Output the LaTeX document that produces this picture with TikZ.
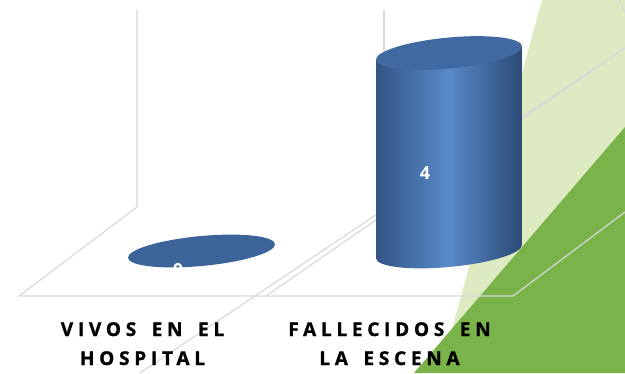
\documentclass[tikz,border=0pt]{standalone}
\usepackage{fontspec}
\setmainfont{Open Sans}
\newfontfamily\catfont{Open Sans Bold}[LetterSpace=25,WordSpace=1.6,FakeBold=1.2]
\definecolor{gridgray}{RGB}{217,217,217}
\definecolor{palegreen}{RGB}{221,234,194}
\definecolor{leafgreen}{RGB}{122,179,73}
\definecolor{bardark}{RGB}{50,84,132}
\definecolor{barlight}{RGB}{88,138,202}
\definecolor{barright}{RGB}{44,74,117}
\definecolor{bartop}{RGB}{63,105,160}
\definecolor{barflat}{RGB}{60,100,152}
\begin{document}
\begin{tikzpicture}[x=1pt,y=-1pt,
    gridline/.style={draw=gridgray,line width=1.2pt},
    barslant/.style={shift={(#1)},yslant=0.09},
    catlabel/.style={font=\catfont\fontsize{19}{29}\selectfont,align=center,anchor=base,inner sep=0pt},
    valuelabel/.style={font=\bfseries\fontsize{18}{18}\selectfont,text=white,inner sep=0pt}]
        \useasboundingbox (0,0) rectangle (625,373);

        \fill[palegreen] (542,0) -- (625,0) -- (625,373) -- (440,373) -- cycle;
        \fill[leafgreen] (625,127) -- (625,373) -- (414,373) -- cycle;

        \draw[gridline] (137,10) -- (137,207) -- (19,296) -- (513,296) -- (625,212);
        \draw[gridline] (384,10) -- (384,60);
        \draw[gridline] (625,48) -- (140,373);
        \draw[gridline] (625,48) -- (266,296);
        \draw[gridline] (619,0) -- (625,12);

        \fill[barflat,barslant={201.5,251}] (0,0) ellipse [x radius=73.5, y radius=15];
        \node[valuelabel] (zero) at (178,270) {0};

        \begin{scope}
            \clip[barslant={449,152}] (-73,-99) -- (-73,99.5) arc[start angle=180, end angle=0, x radius=73, y radius=15.5] -- (73,-99) -- cycle;
            \shade[left color=bardark,right color=barright,middle color=barlight] (376,20) rectangle (522,280);
        \end{scope}
        \fill[bartop,barslant={449,152}] (0,-99) ellipse [x radius=73, y radius=15.5];
        \node[valuelabel] (four) at (425,173) {4};

        \node[catlabel] (vivos) at (142.5,365) {VIVOS EN EL\\HOSPITAL};
        \node[catlabel] (fallecidos) at (389.5,365) {FALLECIDOS EN\\LA ESCENA};

    \end{tikzpicture}
\end{document}
